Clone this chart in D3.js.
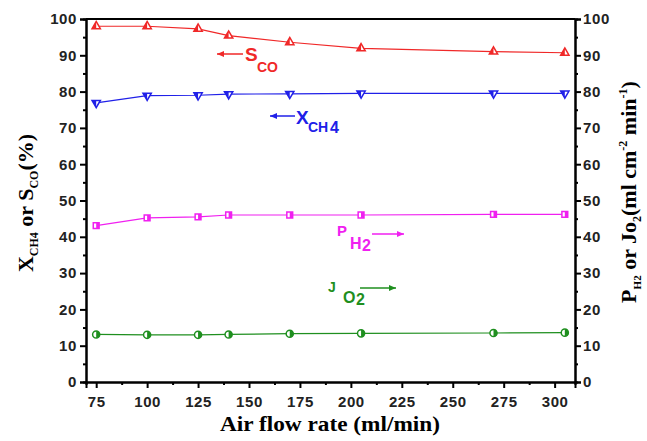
<!DOCTYPE html>
<html><head><meta charset="utf-8">
<script src="https://cdn.jsdelivr.net/npm/d3@7"></script>
<style>body{margin:0;background:#fff}svg{display:block}</style>
</head><body>
<script>
const airFlow = [75, 100, 125, 140, 170, 205, 270, 305];
const sCO   = [98.0, 98.0, 97.3, 95.4, 93.6, 91.9, 91.0, 90.7];
const xCH4  = [76.9, 78.9, 79.0, 79.3, 79.4, 79.5, 79.5, 79.5];
const pH2   = [43.1, 45.2, 45.5, 46.0, 46.0, 46.0, 46.2, 46.2];
const jO2   = [13.1, 13.0, 13.0, 13.1, 13.3, 13.4, 13.5, 13.6];
const xTicks = [75, 100, 125, 150, 175, 200, 225, 250, 275, 300];
const yTicks = [0, 10, 20, 30, 40, 50, 60, 70, 80, 90, 100];

const W = 647, H = 441;
const m = {l: 86, r: 72, t: 19, b: 59};
const svg = d3.select("body").append("svg").attr("width", W).attr("height", H);
const x = d3.scaleLinear().domain([70, 310]).range([m.l, W - m.r]);
const y = d3.scaleLinear().domain([0, 100]).range([H - m.b, m.t]);
const y2 = d3.scaleLinear().domain([0, 100]).range([H - m.b, m.t]);

const defs = svg.append("defs");
defs.append("clipPath").attr("id", "lh").append("rect").attr("x", -10).attr("y", -10).attr("width", 10).attr("height", 20);
defs.append("clipPath").attr("id", "rh").append("rect").attr("x", 0).attr("y", -10).attr("width", 10).attr("height", 20);

const tickFont = "Liberation Sans, Arial, sans-serif";
svg.append("g").attr("transform", `translate(0,${H - m.b})`)
  .call(d3.axisBottom(x).tickValues(xTicks).tickSize(6).tickPadding(8));
svg.append("g").attr("transform", `translate(0,${H - m.b})`)
  .call(d3.axisBottom(x).tickValues(d3.range(87.5, 310, 25)).tickSize(3).tickFormat(""));
svg.append("g").attr("transform", `translate(${m.l},0)`)
  .call(d3.axisLeft(y).tickValues(yTicks).tickSize(6).tickPadding(3));
svg.append("g").attr("transform", `translate(${m.l},0)`)
  .call(d3.axisLeft(y).tickValues(d3.range(5, 100, 10)).tickSize(3).tickFormat(""));
svg.append("g").attr("transform", `translate(${W - m.r},0)`)
  .call(d3.axisRight(y2).tickValues(yTicks).tickSize(6).tickPadding(2));
svg.append("g").attr("transform", `translate(${W - m.r},0)`)
  .call(d3.axisRight(y2).tickValues(d3.range(5, 100, 10)).tickSize(3).tickFormat(""));
svg.selectAll(".domain").attr("stroke", "#000").attr("stroke-width", 2);
svg.selectAll(".tick line").attr("stroke", "#000").attr("stroke-width", 2);
svg.selectAll(".tick text").attr("font-family", tickFont).attr("font-weight", "bold").attr("font-size", 15)
  .attr("fill", "#222").style("letter-spacing", "0.6px");
svg.append("line").attr("x1", m.l).attr("x2", W - m.r).attr("y1", m.t).attr("y2", m.t)
  .attr("stroke", "#000").attr("stroke-width", 2);

const series = [
  {vals: sCO, color: "#f02828", sym: d3.symbolTriangle, rot: 0, clip: "lh", scale: y, sz: 30},
  {vals: xCH4, color: "#2020e8", sym: d3.symbolTriangle, rot: 180, clip: "lh", scale: y, sz: 30},
  {vals: pH2, color: "#f020f0", sym: d3.symbolSquare, rot: 0, clip: "rh", scale: y2, sz: 34},
  {vals: jO2, color: "#1f8f1f", sym: d3.symbolCircle, rot: 0, clip: "rh", scale: y2, sz: 40}
];
series.forEach(s => {
  const pts = airFlow.map((a, i) => [a, s.vals[i]]);
  svg.append("path").datum(pts)
    .attr("d", d3.line().x(d => x(d[0])).y(d => s.scale(d[1])))
    .attr("fill", "none").attr("stroke", s.color).attr("stroke-width", 1.2);
  const g = svg.append("g").selectAll("g").data(pts).join("g")
    .attr("transform", d => `translate(${x(d[0])},${s.scale(d[1])})`);
  g.append("path").attr("d", d3.symbol(s.sym, s.sz)).attr("transform", `rotate(${s.rot})`)
    .attr("fill", "#fff").attr("stroke", s.color).attr("stroke-width", 1.5);
  g.append("g").attr("clip-path", `url(#${s.clip})`).append("path")
    .attr("d", d3.symbol(s.sym, s.sz)).attr("transform", `rotate(${s.rot})`)
    .attr("fill", s.color);
});

function arrow(x1, x2, yy, color) {
  svg.append("line").attr("x1", x1).attr("x2", x2).attr("y1", yy).attr("y2", yy)
    .attr("stroke", color).attr("stroke-width", 1.5);
  const dir = x2 > x1 ? 1 : -1;
  svg.append("path").attr("d", `M${x2},${yy} L${x2 - dir * 7},${yy - 3} L${x2 - dir * 7},${yy + 3} Z`).attr("fill", color);
}
const af = "Liberation Sans, Arial, sans-serif";
function lab(tx, ty, txt, size, color) {
  svg.append("text").attr("x", tx).attr("y", ty).text(txt).attr("font-family", af)
    .attr("font-weight", "bold").attr("font-size", size).attr("fill", color);
}
arrow(243, 217, 54, "#f02828");
lab(245, 61, "S", 19, "#f02828");
lab(257, 72, "CO", 14, "#f02828");
arrow(295, 270, 116, "#2020e8");
lab(296, 124, "X", 19, "#2020e8");
lab(308, 132, "CH", 14, "#2020e8");
lab(330, 133, "4", 16, "#2020e8");
lab(337, 236, "P", 15, "#f020f0");
lab(350, 249, "H", 16, "#f020f0");
lab(362, 251, "2", 16, "#f020f0");
arrow(372, 404, 234, "#f020f0");
lab(328, 292, "J", 14, "#1f8f1f");
lab(343, 303, "O", 16, "#1f8f1f");
lab(356, 305, "2", 16, "#1f8f1f");
arrow(360, 396, 288, "#1f8f1f");

const tf = "Liberation Serif, Times New Roman, serif";
svg.append("text").attr("x", 330).attr("y", 431).attr("text-anchor", "middle")
  .attr("font-family", tf).attr("font-weight", "bold").attr("font-size", 20)
  .attr("textLength", 220).attr("lengthAdjust", "spacingAndGlyphs").text("Air flow rate (ml/min)");
const lt = svg.append("text").attr("transform", "translate(33,203) rotate(-90)").attr("text-anchor", "middle")
  .attr("font-family", tf).attr("font-weight", "bold").attr("font-size", 22);
lt.append("tspan").text("X");
lt.append("tspan").attr("font-size", 12).attr("dy", 5).text("CH4");
lt.append("tspan").attr("dy", -5).text(" or S");
lt.append("tspan").attr("font-size", 12).attr("dy", 5).text("CO");
lt.append("tspan").attr("dy", -5).text("(%)");
const rt = svg.append("text").attr("transform", "translate(636,192) rotate(-90)").attr("text-anchor", "middle")
  .attr("font-family", tf).attr("font-weight", "bold").attr("font-size", 22);
rt.append("tspan").text("P");
rt.append("tspan").attr("font-size", 11).attr("dy", 5).text("H2");
rt.append("tspan").attr("dy", -5).text(" or Jo");
rt.append("tspan").attr("font-size", 12).attr("dy", 5).text("2");
rt.append("tspan").attr("dy", -5).text("(ml cm");
rt.append("tspan").attr("font-size", 12).attr("dy", -9).text("-2");
rt.append("tspan").attr("dy", 9).text(" min");
rt.append("tspan").attr("font-size", 12).attr("dy", -9).text("-1");
rt.append("tspan").attr("dy", 9).text(")");
</script>
</body></html>
